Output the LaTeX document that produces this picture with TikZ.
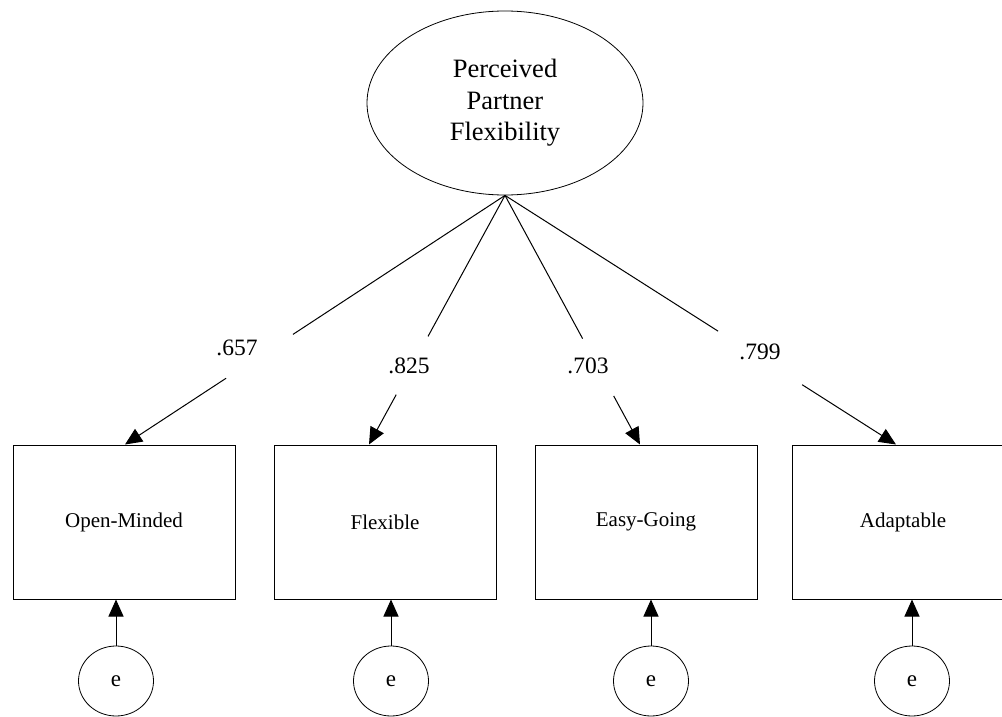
\documentclass[tikz,border=0pt]{standalone}
\usepackage{fontspec}
\setmainfont{Liberation Serif}
\usetikzlibrary{arrows.meta, calc, shapes.geometric}

\begin{document}
\begin{tikzpicture}[x=1pt, y=-1pt,
    indicator/.style={rectangle, draw, line width=1pt, minimum width=222pt, minimum height=154pt, inner sep=0pt, font=\fontsize{21}{25}\selectfont},
    errterm/.style={ellipse, draw, line width=0.8pt, minimum width=75pt, minimum height=70pt, inner sep=0pt, font=\fontsize{23}{27}\selectfont},
    loading/.style={inner sep=0pt, font=\fontsize{23.5}{28}\selectfont},
    regarrow/.style={-{Triangle[width=15pt, length=17pt]}, line width=1pt}]
    \clip (0,0) rectangle (1002,717);

    % Draw latent factor
    \node[ellipse, draw, line width=0.8pt, minimum width=276pt, minimum height=184pt, align=center, font=\fontsize{26.5}{31.5}\selectfont] (ppf) at (505,103) {Perceived\\Partner\\Flexibility};

    % Draw indicators
    \node[indicator] (box1) at (124,522) {Open-Minded};
    \node[indicator] (box2) at (385,522) {Flexible};
    \node[indicator] (box3) at (646,522) {Easy-Going};
    \node[indicator] (box4) at (903,522) {Adaptable};

    % Draw error terms
    \node[errterm] (e1) at (116,681) {e};
    \node[errterm] (e2) at (391,681) {e};
    \node[errterm] (e3) at (651,681) {e};
    \node[errterm] (e4) at (912,681) {e};

    % Labels
    \node[loading] (l1) at (237,348) {.657};
    \node[loading] (l2) at (409,366) {.825};
    \node[loading] (l3) at (588,366) {.703};
    \node[loading] (l4) at (760,352) {.799};

    % Arrow targets
    \coordinate (t1) at ([xshift=1pt]box1.north);
    \coordinate (t2) at ([xshift=-16pt]box2.north);
    \coordinate (t3) at ([xshift=-6pt]box3.north);
    \coordinate (t4) at ([xshift=-7pt]box4.north);

    % Draw connections
    \foreach \i/\a/\b in {1/0.558/0.734, 2/0.566/0.80, 3/0.575/0.805, 4/0.545/0.76} {
        \draw[line width=1pt] (ppf.south) -- ($(ppf.south)!\a!(t\i)$);
        \draw[regarrow] ($(ppf.south)!\b!(t\i)$) -- (t\i);
        \draw[regarrow] (e\i.north) -- (e\i.north |- box\i.south);
    }
\end{tikzpicture}
\end{document}
